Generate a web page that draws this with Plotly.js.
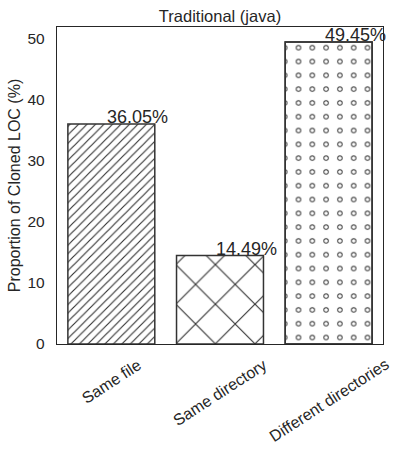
<!DOCTYPE html>
<html>
<head>
<meta charset="utf-8">
<script src="https://cdn.plot.ly/plotly-3.0.1.min.js"></script>
<style>
  html, body { margin: 0; padding: 0; background: #fff; }
  #graph { width: 399px; height: 457px; }
</style>
</head>
<body>
<div id="graph"></div>
<script>
const categories = ["Same file", "Same directory", "Different directories"];
const values = [36.05, 14.49, 49.45];
const hatches = ["/", "x", "."];
const yTicks = [0, 10, 20, 30, 40, 50];

const ink = "#262626";
const edge = "#333333";

// main bars with hatch patterns
const bars = {
    x: categories,
    y: values,
    type: "bar",
    hoverinfo: "skip",
    marker: {
        color: "white",
        line: { color: edge, width: 1.5 },
        pattern: {
            shape: hatches,
            size: [6, 28, 13.8],
            solidity: [0.19, 0.08, 0.12],
            fgcolor: edge,
            bgcolor: "white",
            fillmode: "replace"
        }
    }
};

// white dots on top of the dark ones, so the dots read as small rings
const rings = {
    x: [categories[2]],
    y: [values[2]],
    type: "bar",
    hoverinfo: "skip",
    marker: {
        color: "white",
        line: { color: edge, width: 1.5 },
        pattern: {
            shape: ".",
            size: 13.8,
            solidity: 0.055,
            fgcolor: "white",
            bgcolor: "rgba(0,0,0,0)",
            fillmode: "replace"
        }
    }
};

const valueLabels = categories.map((c, i) => ({
    x: c,
    y: values[i],
    xref: "x",
    yref: "y",
    text: values[i].toFixed(2) + "%",
    showarrow: false,
    xanchor: "left",
    yanchor: "bottom",
    xshift: -6,
    yshift: -5,
    font: { size: 18, color: ink }
}));

const tickLabels = categories.map(c => ({
    x: c,
    y: 0,
    xref: "x",
    yref: "paper",
    text: c,
    showarrow: false,
    textangle: -33,
    xanchor: "center",
    yanchor: "top",
    yshift: -9,
    font: { size: 16, color: ink }
}));

const layout = {
    width: 399,
    height: 457,
    margin: { l: 57, r: 16, t: 27, b: 113 },
    paper_bgcolor: "white",
    plot_bgcolor: "white",
    font: { family: "Liberation Sans, Arial, sans-serif", color: ink },
    showlegend: false,
    barmode: "overlay",
    bargap: 0.2,
    hovermode: false,
    title: {
        text: "Traditional (java)",
        font: { size: 16.5, color: ink },
        x: 0.5,
        xref: "paper",
        y: 1,
        yref: "paper",
        yanchor: "bottom",
        pad: { b: 5 }
    },
    xaxis: {
        type: "category",
        range: [-0.5, 2.5],
        showline: true,
        mirror: true,
        linecolor: ink,
        linewidth: 1.25,
        showgrid: false,
        zeroline: false,
        ticks: "",
        showticklabels: false
    },
    yaxis: {
        range: [0, 51.92],
        tickvals: yTicks,
        showline: true,
        mirror: true,
        linecolor: ink,
        linewidth: 1.25,
        showgrid: false,
        zeroline: false,
        ticks: "",
        ticklabelstandoff: 8,
        tickfont: { size: 15.5, color: ink },
        title: {
            text: "Proportion of Cloned LOC (%)",
            font: { size: 16, color: ink },
            standoff: 2
        }
    },
    annotations: valueLabels.concat(tickLabels)
};

Plotly.newPlot("graph", [bars, rings], layout, { displayModeBar: false, staticPlot: true });
</script>
</body>
</html>
